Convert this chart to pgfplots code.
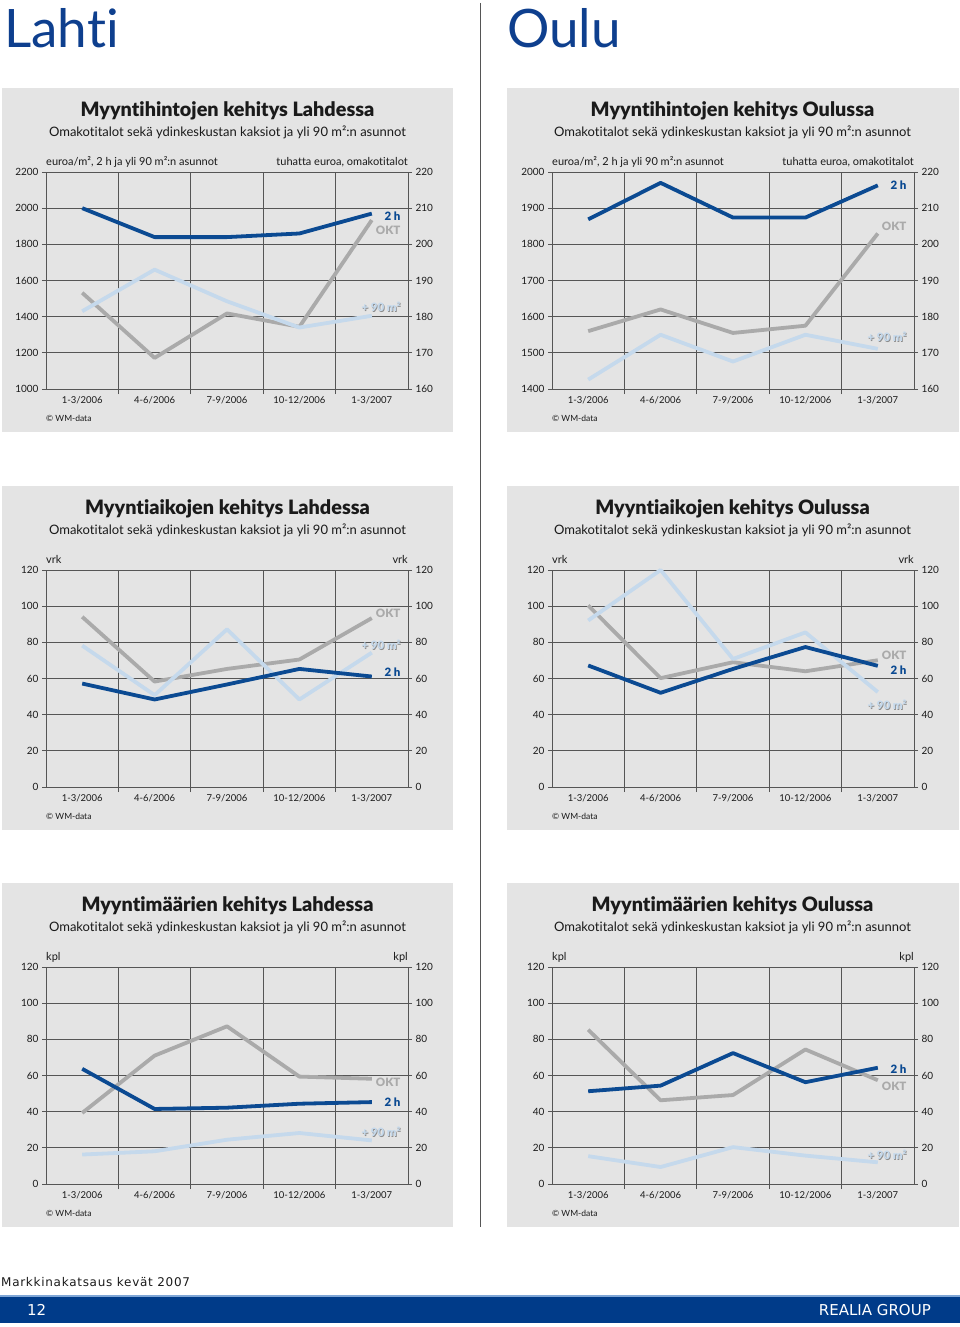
\documentclass[border=0pt]{standalone}
\usepackage{pgfplots}
\pgfplotsset{compat=1.18}
\usepackage{fontspec}
\setmainfont{Lato}[BoldFont={Lato Black}, Ligatures=NoCommon]
\newfontfamily\footfont{DejaVu Sans}
\newfontfamily\footfontsp{DejaVu Sans}[LetterSpace=6]

\definecolor{panel}{HTML}{E4E4E4}
\definecolor{gridc}{HTML}{555555}
\definecolor{txt}{HTML}{1A1A1A}
\definecolor{dblue}{HTML}{0B4A92}
\definecolor{oktc}{HTML}{AAAAAA}
\definecolor{lblue}{HTML}{C5D9EC}
\definecolor{shadowc}{HTML}{8C8C8C}
\definecolor{head}{HTML}{0E3F8E}
\definecolor{barc}{HTML}{003B89}
\definecolor{barl}{HTML}{7FA6D6}

\newcommand\titlefont{\fontsize{19.8}{23}\selectfont\bfseries}
\newcommand\subfont{\fontsize{13}{15}\selectfont}
\newcommand\unitfont{\fontsize{11}{13}\selectfont}
\newcommand\labfont{\fontsize{11.5}{13}\selectfont\bfseries}

\pgfplotsset{
  cbase/.style={scale only axis, width=362pt, height=217pt,
    xmin=0.5, xmax=5.5, anchor=south west, clip=false,
    /pgf/number format/1000 sep={},
    /pgf/number format/assume math mode=true,
    tick align=outside,
    tick style={gridc, line width=0.7pt},
    axis line style={gridc, line width=0.7pt},
    major tick length=4pt, minor tick length=5pt,
    yticklabel style={font=\fontsize{10}{12}\selectfont, text=txt},
    xticklabel style={font=\fontsize{9.5}{11}\selectfont, text=txt},
  },
  gridax/.style={cbase,
    xtick={1,2,3,4,5},
    xticklabels={1-3/2006,4-6/2006,7-9/2006,10-12/2006,1-3/2007},
    major x tick style={draw=none},
    minor xtick={1.5,2.5,3.5,4.5},
    xminorgrids=true, minor x grid style={gridc, line width=0.7pt},
    ymajorgrids=true, major y grid style={gridc, line width=0.7pt},
    xtick pos=left, ytick pos=left,
  },
  rightax/.style={cbase, axis x line=none, axis y line*=right},
  dataax/.style={cbase, hide axis},
  db/.style={dblue, line width=3.8pt, line join=round},
  lb/.style={lblue, line width=3.8pt, line join=round},
  ok/.style={oktc, line width=3.8pt, line join=round},
}

\newcommand\lab[3]{\node[anchor=east, xshift=-4pt, font=\labfont, text=#1] at (rel axis cs:1,#2) {#3};}
\newcommand\labn[1]{%
  \node[anchor=east, xshift=-3.2pt, yshift=-0.8pt, font=\labfont, text=shadowc] at (rel axis cs:1,#1) {+ 90 m²};
  \node[anchor=east, xshift=-4pt, font=\labfont, text=lblue] at (rel axis cs:1,#1) {+ 90 m²};}
\newcommand\units[2]{%
  \node[anchor=base west, yshift=7pt, font=\unitfont, text=txt, inner sep=0pt] at (rel axis cs:0,1) {#1};
  \node[anchor=base east, yshift=7pt, font=\unitfont, text=txt, inner sep=0pt] at (rel axis cs:1,1) {#2};}

\begin{document}
\begin{tikzpicture}
\useasboundingbox (0pt,0pt) rectangle (960pt,-1327pt);

% headings
\node[anchor=base west, inner sep=0pt, font=\fontsize{53}{58}\selectfont, text=head] at (4pt,-48pt) {Laht\kern0pt i};
\node[anchor=base west, inner sep=0pt, font=\fontsize{53}{58}\selectfont, text=head] at (507pt,-48pt) {Oulu};
\draw[gridc, line width=1.3pt] (480.5pt,-3pt) -- (480.5pt,-1227pt);

% panels
\foreach \yt/\yb in {88/432, 486/830, 883/1227}{
  \fill[panel] (1.5pt,-\yt pt) rectangle (453pt,-\yb pt);
  \fill[panel] (507pt,-\yt pt) rectangle (958.5pt,-\yb pt);
}

% titles
\node[font=\titlefont, text=txt] at (227.5pt,-111pt) {Myyntihintojen kehitys Lahdessa};
\node[font=\titlefont, text=txt] at (732.5pt,-111pt) {Myyntihintojen kehitys Oulussa};
\node[font=\titlefont, text=txt] at (227.5pt,-509pt) {Myyntiaikojen kehitys Lahdessa};
\node[font=\titlefont, text=txt] at (732.5pt,-509pt) {Myyntiaikojen kehitys Oulussa};
\node[font=\titlefont, text=txt] at (227.5pt,-906pt) {Myyntimäärien kehitys Lahdessa};
\node[font=\titlefont, text=txt] at (732.5pt,-906pt) {Myyntimäärien kehitys Oulussa};
\foreach \xc in {227.5,732.5}{
  \foreach \ys in {132,530,927}{
    \node[font=\subfont, text=txt] at (\xc pt,-\ys pt) {Omakotitalot sekä ydinkeskustan kaksiot ja yli 90 m²:n asunnot};
  }
}
\foreach \xc in {46,552}{
  \foreach \ys in {418,816,1213}{
    \node[anchor=west, inner sep=0pt, font=\fontsize{8.5}{10}\selectfont, text=txt] at (\xc pt,-\ys pt) {© WM-data};
  }
}

%%%%%%%%%%%%%% Chart 1: Lahti prices
\begin{axis}[gridax, at={(46pt,-389pt)}, ymin=1000, ymax=2200, ytick={1000,1200,...,2200}]
\units{euroa/m², 2 h ja yli 90 m²:n asunnot}{tuhatta euroa, omakotitalot}
\end{axis}
\begin{axis}[rightax, at={(46pt,-389pt)}, ymin=160, ymax=220, ytick={160,170,...,220}]
\addplot[ok] coordinates {(1,186.6) (2,168.6) (3,180.9) (4,177.2) (5,206.7)};
\end{axis}
\begin{axis}[dataax, at={(46pt,-389pt)}, ymin=1000, ymax=2200]
\addplot[lb] coordinates {(1,1430) (2,1660) (3,1485) (4,1340) (5,1405)};
\addplot[db] coordinates {(1,2000) (2,1840) (3,1840) (4,1860) (5,1970)};
\lab{dblue}{0.797}{2 h}
\lab{oktc}{0.733}{OKT}
\labn{0.378}
\end{axis}

%%%%%%%%%%%%%% Chart 2: Oulu prices
\begin{axis}[gridax, at={(552pt,-389pt)}, ymin=1400, ymax=2000, ytick={1400,1500,...,2000}]
\units{euroa/m², 2 h ja yli 90 m²:n asunnot}{tuhatta euroa, omakotitalot}
\end{axis}
\begin{axis}[rightax, at={(552pt,-389pt)}, ymin=160, ymax=220, ytick={160,170,...,220}]
\addplot[ok] coordinates {(1,176) (2,182) (3,175.5) (4,177.5) (5,203)};
\end{axis}
\begin{axis}[dataax, at={(552pt,-389pt)}, ymin=1400, ymax=2000]
\addplot[lb] coordinates {(1,1426) (2,1550) (3,1476) (4,1550) (5,1511)};
\addplot[db] coordinates {(1,1869) (2,1970) (3,1874) (4,1874) (5,1963)};
\lab{dblue}{0.937}{2 h}
\lab{oktc}{0.751}{OKT}
\labn{0.241}
\end{axis}

%%%%%%%%%%%%%% Chart 3: Lahti sales time
\begin{axis}[gridax, at={(46pt,-787pt)}, ymin=0, ymax=120, ytick={0,20,...,120}]
\units{vrk}{vrk}
\end{axis}
\begin{axis}[rightax, at={(46pt,-787pt)}, ymin=0, ymax=120, ytick={0,20,...,120}]
\addplot[ok] coordinates {(1,94.1) (2,58.3) (3,65.3) (4,70.5) (5,93.4)};
\end{axis}
\begin{axis}[dataax, at={(46pt,-787pt)}, ymin=0, ymax=120]
\addplot[lb] coordinates {(1,78.2) (2,50.8) (3,87.2) (4,48.4) (5,74.3)};
\addplot[db] coordinates {(1,57.2) (2,48.4) (3,56.7) (4,65.3) (5,61.1)};
\lab{oktc}{0.799}{OKT}
\labn{0.654}
\lab{dblue}{0.530}{2 h}
\end{axis}

%%%%%%%%%%%%%% Chart 4: Oulu sales time
\begin{axis}[gridax, at={(552pt,-787pt)}, ymin=0, ymax=120, ytick={0,20,...,120}]
\units{vrk}{vrk}
\end{axis}
\begin{axis}[rightax, at={(552pt,-787pt)}, ymin=0, ymax=120, ytick={0,20,...,120}]
\addplot[ok] coordinates {(1,100.4) (2,60.2) (3,69) (4,64) (5,70.1)};
\end{axis}
\begin{axis}[dataax, at={(552pt,-787pt)}, ymin=0, ymax=120]
\addplot[lb] coordinates {(1,92.1) (2,120) (3,70.8) (4,85.5) (5,52.5)};
\addplot[db] coordinates {(1,67.2) (2,52.1) (3,65.3) (4,77.4) (5,67)};
\lab{oktc}{0.605}{OKT}
\lab{dblue}{0.539}{2 h}
\labn{0.378}
\end{axis}

%%%%%%%%%%%%%% Chart 5: Lahti sales volume
\begin{axis}[gridax, at={(46pt,-1184pt)}, ymin=0, ymax=120, ytick={0,20,...,120}]
\units{kpl}{kpl}
\end{axis}
\begin{axis}[rightax, at={(46pt,-1184pt)}, ymin=0, ymax=120, ytick={0,20,...,120}]
\addplot[ok] coordinates {(1,39.3) (2,71) (3,87.2) (4,59.4) (5,58.2)};
\end{axis}
\begin{axis}[dataax, at={(46pt,-1184pt)}, ymin=0, ymax=120]
\addplot[lb] coordinates {(1,16.3) (2,18.1) (3,24.5) (4,28.2) (5,24.1)};
\addplot[db] coordinates {(1,63.7) (2,41.5) (3,42.2) (4,44.4) (5,45.3)};
\lab{oktc}{0.467}{OKT}
\lab{dblue}{0.375}{2 h}
\labn{0.240}
\end{axis}

%%%%%%%%%%%%%% Chart 6: Oulu sales volume
\begin{axis}[gridax, at={(552pt,-1184pt)}, ymin=0, ymax=120, ytick={0,20,...,120}]
\units{kpl}{kpl}
\end{axis}
\begin{axis}[rightax, at={(552pt,-1184pt)}, ymin=0, ymax=120, ytick={0,20,...,120}]
\addplot[ok] coordinates {(1,85.3) (2,46.3) (3,49.2) (4,74.4) (5,57.4)};
\end{axis}
\begin{axis}[dataax, at={(552pt,-1184pt)}, ymin=0, ymax=120]
\addplot[lb] coordinates {(1,15.4) (2,9.4) (3,20.4) (4,15.7) (5,12)};
\addplot[db] coordinates {(1,51.3) (2,54.4) (3,72.4) (4,56.3) (5,64.3)};
\lab{dblue}{0.530}{2 h}
\lab{oktc}{0.448}{OKT}
\labn{0.134}
\end{axis}

% footer
\node[anchor=west, inner sep=0pt, font=\footfontsp\fontsize{12}{14}\selectfont, text=txt] at (1pt,-1282pt) {Markkinakatsaus kevät 2007};
\fill[barl] (0pt,-1295pt) rectangle (960pt,-1297pt);
\fill[barc] (0pt,-1297pt) rectangle (960pt,-1323pt);
\node[anchor=west, inner sep=0pt, font=\footfont\fontsize{15}{17}\selectfont, text=white] at (27pt,-1310pt) {12};
\node[anchor=east, inner sep=0pt, font=\footfont\fontsize{15}{17}\selectfont, text=white] at (931pt,-1310pt) {REALIA GROUP};
\end{tikzpicture}
\end{document}
